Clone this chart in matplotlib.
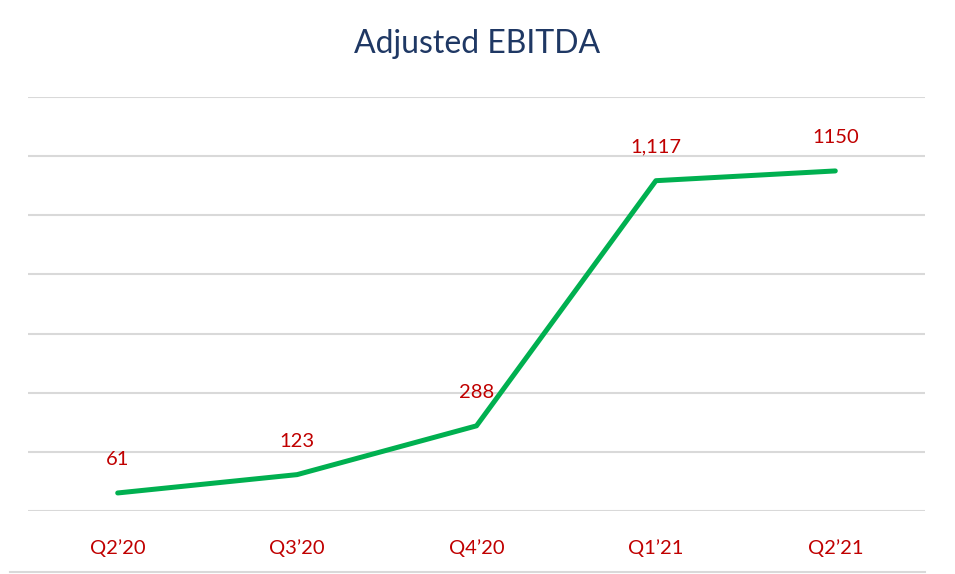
import matplotlib.pyplot as plt

# datos del grafico
trimestres = ['Q2\u201920', 'Q3\u201920', 'Q4\u201920', 'Q1\u201921', 'Q2\u201921']
ebitda = [61, 123, 288, 1117, 1150]
etiquetas = ['61', '123', '288', '1,117', '1150']

plt.rcParams['font.family'] = ['Lato', 'DejaVu Sans']

fig = plt.figure(figsize=(9.55, 5.74), dpi=100)
ax = fig.add_axes([28 / 955, 63 / 574, 897 / 955, 414 / 574])

x = list(range(len(trimestres)))
ax.plot(x, ebitda, color='#00B050', linewidth=3.6, solid_capstyle='round', zorder=3)

# etiquetas de datos
for xi, yi, txt in zip(x, ebitda, etiquetas):
    ax.annotate(txt, (xi, yi), xytext=(0, 24), textcoords='offset points',
                ha='center', va='center', color='#C00000', fontsize=14.5)

ax.set_xlim(-0.5, len(trimestres) - 0.5)
ax.set_ylim(0, 1400)
ax.set_yticks(range(0, 1401, 200))
ax.yaxis.grid(True, color='#D9D9D9', linewidth=1.5)
ax.set_axisbelow(True)
ax.tick_params(axis='y', left=False, labelleft=False)
ax.set_xticks(x)
ax.set_xticklabels(trimestres, color='#C00000', fontsize=14.5)
ax.tick_params(axis='x', bottom=False, pad=17)
for s in ax.spines.values():
    s.set_visible(False)

fig.text(477 / 955, 1 - 44 / 574, 'Adjusted EBITDA', ha='center', va='center',
         color='#1F3864', fontsize=23)

# linea inferior
fig.add_artist(plt.Line2D([10 / 955, 925 / 955], [2 / 574, 2 / 574],
                          color='#D9D9D9', linewidth=1.5))

fig.savefig('out.png', dpi=100)
